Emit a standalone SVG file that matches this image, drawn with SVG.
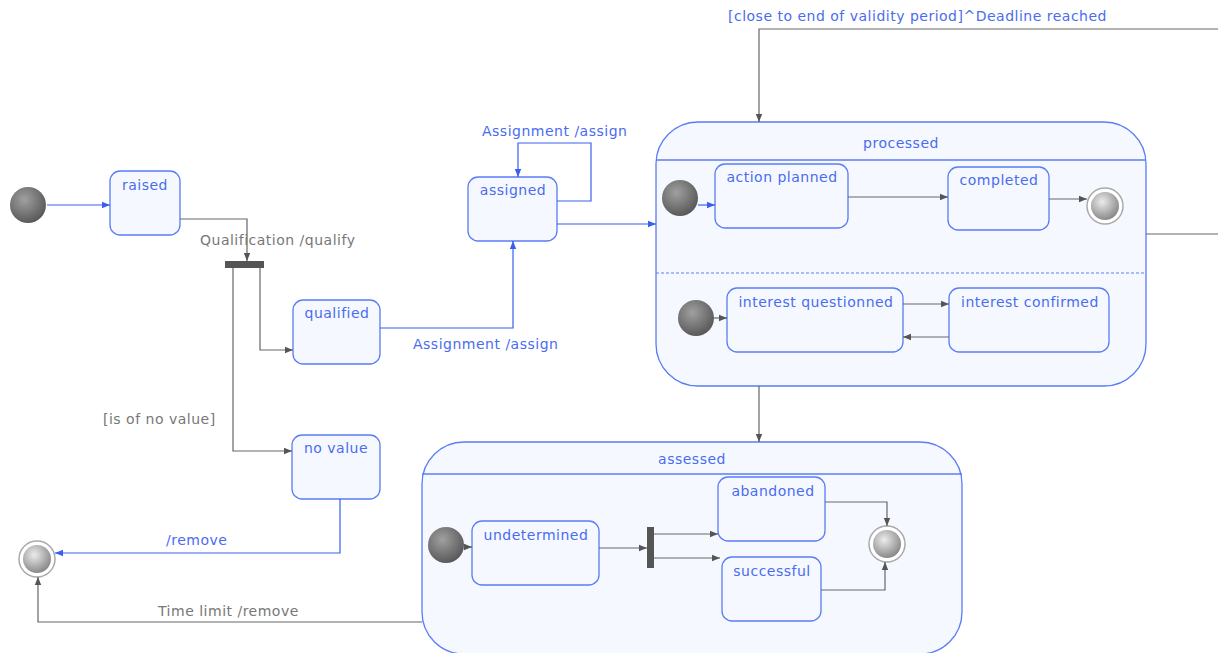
<svg xmlns="http://www.w3.org/2000/svg" width="1218" height="653" viewBox="0 0 1218 653">
<defs>
<radialGradient id="gInit" cx="0.4" cy="0.35" r="0.65">
<stop offset="0" stop-color="#a0a0a0"/><stop offset="1" stop-color="#5a5a5a"/>
</radialGradient>
<radialGradient id="gFin" cx="0.4" cy="0.35" r="0.65">
<stop offset="0" stop-color="#ececec"/><stop offset="1" stop-color="#8a8a8a"/>
</radialGradient>
<marker id="ab" viewBox="0 0 10 10" refX="10" refY="5" markerWidth="7" markerHeight="7" orient="auto-start-reverse"><path d="M0,1 L10,5 L0,9 z" fill="#3a5ff0"/></marker>
<marker id="ag" viewBox="0 0 10 10" refX="10" refY="5" markerWidth="7" markerHeight="7" orient="auto-start-reverse"><path d="M0,1 L10,5 L0,9 z" fill="#555"/></marker>
</defs>
<style>
.st{fill:#f5f9ff;stroke:#5a7cf5;stroke-width:1.3}
.t{font-family:"DejaVu Sans",Verdana,sans-serif;font-size:14px;letter-spacing:0.5px;fill:#4a6cf0}
.tg{font-family:"DejaVu Sans",Verdana,sans-serif;font-size:14px;letter-spacing:0.5px;fill:#777}
.cb{fill:none;stroke:#3a5ff0;stroke-width:1.2;marker-end:url(#ab)}
.cg{fill:none;stroke:#666;stroke-width:1.2;marker-end:url(#ag)}
.ln{fill:none;stroke:#666;stroke-width:1.2}
.bar{fill:#555}
.init{fill:url(#gInit)}
.fo{fill:#fff;stroke:#aaa;stroke-width:1.5}
.fi{fill:url(#gFin)}
</style>

<g id="processed">
<rect class="st" x="656" y="122" width="490" height="264" rx="42"/>
<line x1="656" y1="160" x2="1146" y2="160" stroke="#5a7cf5" stroke-width="1.3"/>
<line x1="656" y1="273" x2="1146" y2="273" stroke="#5a7cf5" stroke-width="1" stroke-dasharray="3,2"/>
<text class="t" x="901" y="148" text-anchor="middle">processed</text>
</g>
<g id="assessed">
<rect class="st" x="422" y="442" width="540" height="212" rx="42"/>
<line x1="422" y1="474" x2="962" y2="474" stroke="#5a7cf5" stroke-width="1.3"/>
<text class="t" x="692" y="464" text-anchor="middle">assessed</text>
</g>

<g id="init-main"><circle class="init" cx="28" cy="205" r="18"/></g>
<g id="raised"><rect class="st" x="110" y="171" width="70" height="64" rx="10"/><text class="t" x="145" y="190" text-anchor="middle">raised</text></g>
<g id="fork1"><rect class="bar" x="225" y="261" width="39" height="7"/></g>
<g id="qualified"><rect class="st" x="293" y="300" width="87" height="64" rx="10"/><text class="t" x="337" y="318" text-anchor="middle">qualified</text></g>
<g id="assigned"><rect class="st" x="468" y="177" width="89" height="64" rx="10"/><text class="t" x="513" y="195" text-anchor="middle">assigned</text></g>
<g id="novalue"><rect class="st" x="292" y="435" width="88" height="64" rx="10"/><text class="t" x="336" y="453" text-anchor="middle">no value</text></g>
<g id="final-main"><circle class="fo" cx="37" cy="559" r="18"/><circle class="fi" cx="37" cy="559" r="14"/></g>

<g id="init-p1"><circle class="init" cx="680" cy="198" r="18"/></g>
<g id="actionplanned"><rect class="st" x="715" y="164" width="133" height="64" rx="10"/><text class="t" x="782" y="182" text-anchor="middle">action planned</text></g>
<g id="completed"><rect class="st" x="948" y="167" width="101" height="63" rx="10"/><text class="t" x="999" y="185" text-anchor="middle">completed</text></g>
<g id="final-p"><circle class="fo" cx="1105" cy="206" r="18"/><circle class="fi" cx="1105" cy="206" r="14"/></g>
<g id="init-p2"><circle class="init" cx="696" cy="318" r="18"/></g>
<g id="interestq"><rect class="st" x="727" y="288" width="176" height="64" rx="10"/><text class="t" x="816" y="307" text-anchor="middle">interest questionned</text></g>
<g id="interestc"><rect class="st" x="949" y="288" width="160" height="64" rx="10"/><text class="t" x="1030" y="307" text-anchor="middle">interest confirmed</text></g>

<g id="init-a"><circle class="init" cx="446" cy="545" r="18"/></g>
<g id="undetermined"><rect class="st" x="472" y="521" width="127" height="64" rx="10"/><text class="t" x="536" y="540" text-anchor="middle">undetermined</text></g>
<g id="fork2"><rect class="bar" x="647" y="527" width="7" height="41"/></g>
<g id="abandoned"><rect class="st" x="718" y="477" width="107" height="64" rx="10"/><text class="t" x="773" y="496" text-anchor="middle">abandoned</text></g>
<g id="successful"><rect class="st" x="722" y="557" width="99" height="64" rx="10"/><text class="t" x="772" y="576" text-anchor="middle">successful</text></g>
<g id="final-a"><circle class="fo" cx="887" cy="544" r="18"/><circle class="fi" cx="887" cy="544" r="14"/></g>

<g id="connectors">
<path class="cb" d="M47,205 H110"/>
<path class="cg" d="M180,219 H247 V261"/>
<text class="tg" x="200" y="245">Qualification /qualify</text>
<path class="cg" d="M260,268 V350 H293"/>
<path class="cg" d="M233,268 V451 H292"/>
<text class="tg" x="103" y="424">[is of no value]</text>
<path class="cb" d="M380,328 H513 V241"/>
<text class="t" x="413" y="349">Assignment /assign</text>
<path class="cb" d="M557,201 H591 V143 H518 V177"/>
<text class="t" x="482" y="136">Assignment /assign</text>
<path class="cb" d="M557,224 H656"/>
<path class="cb" d="M698,205 H715"/>
<path class="cg" d="M848,197 H948"/>
<path class="cg" d="M1049,199 H1087"/>
<path class="cg" d="M714,318 H727"/>
<path class="cg" d="M903,304 H949"/>
<path class="cg" d="M949,337 H903"/>
<path class="ln" d="M1146,234 H1218"/>
<path class="cg" d="M1218,29 H759 V122"/>
<text class="t" x="728" y="21">[close to end of validity period]^Deadline reached</text>
<path class="cg" d="M759,386 V442"/>
<path class="cg" d="M464,547 H472"/>
<path class="cg" d="M599,548 H647"/>
<path class="cg" d="M654,534 H718"/>
<path class="cg" d="M654,558 H720"/>
<path class="cg" d="M825,502 H887 V526"/>
<path class="cg" d="M821,590 H885 V562"/>
<path class="cb" d="M340,499 V553 H55"/>
<text class="t" x="166" y="545">/remove</text>
<path class="cg" d="M422,622 H38 V577"/>
<text class="tg" x="158" y="616">Time limit /remove</text>
</g>
</svg>
